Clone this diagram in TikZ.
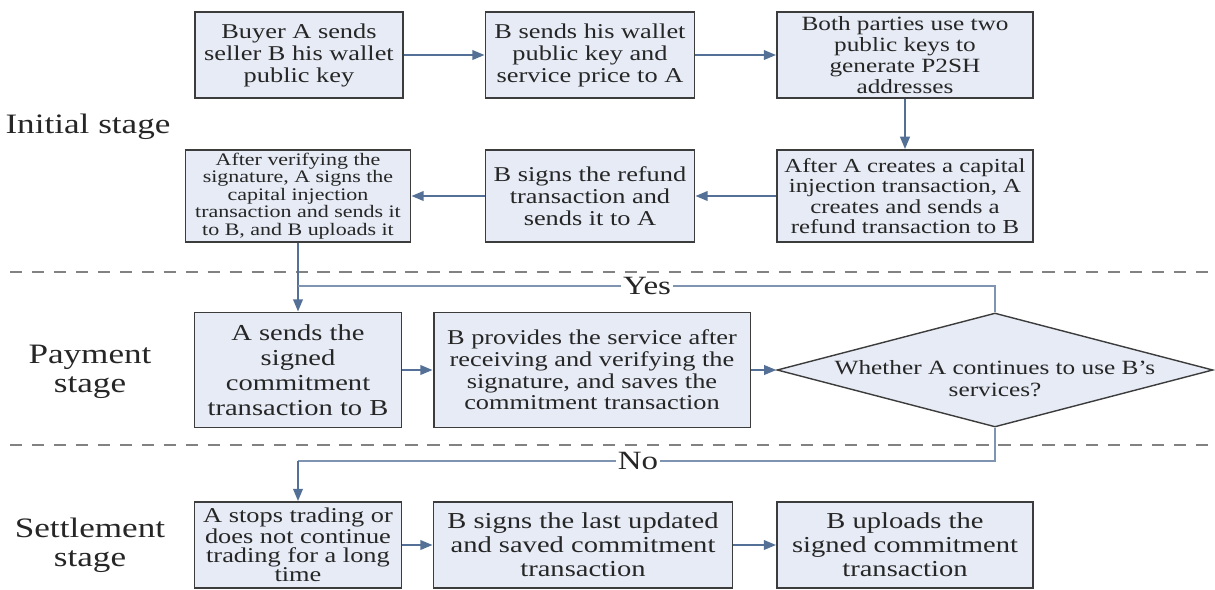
\documentclass[tikz,border=0pt]{standalone}
\usepackage{fontspec}
\setmainfont{Liberation Serif}[FakeStretch=1.25]
\usetikzlibrary{arrows.meta,shapes.geometric}
\definecolor{boxfill}{RGB}{230,235,245}
\definecolor{boxline}{RGB}{60,60,60}
\definecolor{flow}{RGB}{84,112,150}
\definecolor{sepline}{RGB}{130,130,130}
\newcommand{\fs}[2]{\fontsize{#1}{#2}\selectfont}

\begin{document}
\begin{tikzpicture}[x=0.02cm,y=-0.02cm,
  stepbox/.style={draw=boxline,line width=1.1pt,fill=boxfill,align=center,
    inner sep=1pt,text=black!85},
  decision/.style={diamond,draw=boxline,line width=0.8pt,fill=boxfill,
    inner sep=0pt,minimum width=8.72cm,minimum height=2.28cm},
  flowarrow/.style={draw=flow,line width=1.1pt,-{Triangle[length=7pt,width=5.5pt]}},
  link/.style={draw=flow!75,line width=0.8pt},
  stage/.style={align=center,text=black!85,font=\fs{16}{16.5}},
  answer/.style={fill=white,inner sep=1pt,text=black!85,font=\fs{15}{15}}]
\useasboundingbox (0,0) rectangle (1215,589);

% stage separators
\draw[sepline,line width=1.2pt,dash pattern=on 7pt off 5.5pt] (10,272) -- (1215,272);
\draw[sepline,line width=1.2pt,dash pattern=on 7pt off 5.5pt] (10,445) -- (1215,445);

\node[stage] (initial) at (88,127) {Initial stage};
\node[stage] (payment) at (90,372) {Payment\\stage};
\node[stage] (settle) at (90,545) {Settlement\\stage};

% initial stage
\node[stepbox,minimum width=4.16cm,minimum height=1.72cm,font=\fs{12}{12.5}] (b1) at (299,55)
  {Buyer A sends\\seller B his wallet\\public key};
\node[stepbox,minimum width=4.18cm,minimum height=1.72cm,font=\fs{12}{12.5}] (b2) at (590,55)
  {B sends his wallet\\public key and\\service price to A};
\node[stepbox,minimum width=5.12cm,minimum height=1.72cm,font=\fs{11.5}{11.8}] (b3) at (905,55)
  {Both parties use two\\public keys to\\generate P2SH\\addresses};
\node[stepbox,minimum width=5.12cm,minimum height=1.84cm,font=\fs{11.3}{11.5}] (b4) at (905,196)
  {After A creates a capital\\injection transaction, A\\creates and sends a\\refund transaction to B};
\node[stepbox,minimum width=4.18cm,minimum height=1.84cm,font=\fs{12}{12.5}] (b5) at (590,196)
  {B signs the refund\\transaction and\\sends it to A};
\node[stepbox,minimum width=4.5cm,minimum height=1.84cm,font=\fs{10}{10}] (b6) at (298,196)
  {After verifying the\\signature, A signs the\\capital injection\\transaction and sends it\\to B, and B uploads it};

\draw[flowarrow] (b1) -- (b2);
\draw[flowarrow] (b2) -- (b3);
\draw[flowarrow] (b3) -- (b4);
\draw[flowarrow] (b4) -- (b5);
\draw[flowarrow] (b5) -- (b6);

% payment stage
\node[stepbox,minimum width=4.14cm,minimum height=2.3cm,font=\fs{13}{14.2}] (a1) at (298,370)
  {A sends the\\signed\\commitment\\transaction to B};
\node[stepbox,minimum width=6.34cm,minimum height=2.3cm,font=\fs{12}{12.3}] (a2) at (592,370)
  {B provides the service after\\receiving and verifying the\\signature, and saves the\\commitment transaction};
\node[decision] (dec) at (995,370) {};
\node[align=center,text=black!85,font=\fs{11.5}{12.3}] (dectext) at ([yshift=-5pt]dec.center)
  {Whether A continues to use B’s\\services?};

\coordinate (yesjoin) at (298,286);
\coordinate (nojoin) at (298,461);

\draw[flowarrow] (b6) -- (a1);
\draw[flowarrow] (a1) -- (a2);
\draw[flowarrow] (a2) -- (dec);
\draw[link] (dec.north) |- (yesjoin);
\node[answer] (yes) at (647,286) {Yes};

% settlement stage
\node[stepbox,minimum width=4.14cm,minimum height=1.72cm,font=\fs{12}{10.8}] (s1) at (298,545)
  {A stops trading or\\does not continue\\trading for a long\\time};
\node[stepbox,minimum width=5.98cm,minimum height=1.72cm,font=\fs{13}{13.6}] (s2) at (583,545)
  {B signs the last updated\\and saved commitment\\transaction};
\node[stepbox,minimum width=5.12cm,minimum height=1.72cm,font=\fs{13}{13.6}] (s3) at (905,545)
  {B uploads the\\signed commitment\\transaction};

\draw[link] (dec.south) |- (nojoin);
\draw[flowarrow] (nojoin) -- (s1);
\node[answer] (no) at (638,461) {No};
\draw[flowarrow] (s1) -- (s2);
\draw[flowarrow] (s2) -- (s3);
\end{tikzpicture}
\end{document}
